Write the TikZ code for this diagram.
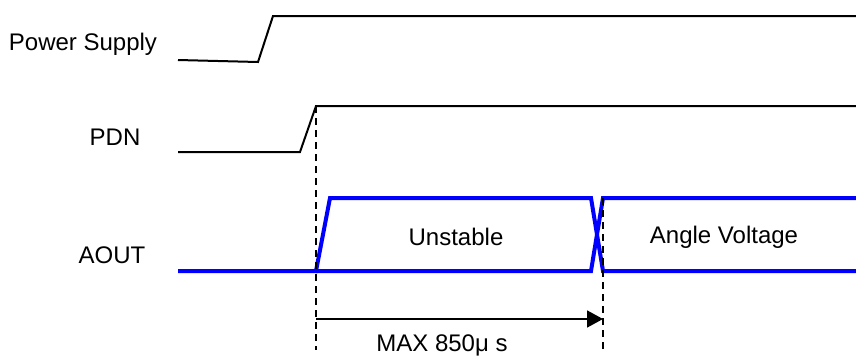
\documentclass[tikz,border=0pt]{standalone}
\usepackage{fontspec}
\setmainfont{Liberation Sans}
\usetikzlibrary{arrows.meta}

\begin{document}
\begin{tikzpicture}[x=1pt,y=-1pt,
    sig/.style={line width=2pt,line join=miter},
    bus/.style={draw=blue,line width=4pt,line join=miter},
    guide/.style={line width=1.6pt,dash pattern=on 7pt off 5pt},
    every node/.style={font=\fontsize{24}{28}\selectfont}]

    \useasboundingbox (0,0) rectangle (856,356);

    % Labels %
    \node (ps) at (83,44) {Power Supply};
    \node (pdn) at (115,137) {PDN};
    \node (aout) at (112,255) {AOUT};

    % Power Supply %
    \coordinate (ps0) at (178,60);
    \coordinate (ps1) at (258,62);
    \coordinate (ps2) at (273,16);
    \coordinate (ps3) at (856,16);
    \draw [sig] (ps0) -- (ps1) -- (ps2) -- (ps3);

    % PDN %
    \coordinate (pd0) at (178,152);
    \coordinate (pd1) at (300,152);
    \coordinate (pd2) at (316,106);
    \coordinate (pd3) at (856,106);
    \draw [sig] (pd0) -- (pd1) -- (pd2) -- (pd3);

    % AOUT %
    \coordinate (ao0) at (178,271);
    \coordinate (ao1) at (316,271);
    \coordinate (ao2) at (330,198);
    \coordinate (ao3) at (591,198);
    \coordinate (ao4) at (591,271);
    \coordinate (ao5) at (603,198);
    \coordinate (ao6) at (603,271);
    \coordinate (ao7) at (856,198);
    \coordinate (ao8) at (856,271);
    \draw [bus] (ao0) -- (ao1) -- (ao2) -- (ao3) -- (ao6) -- (ao8);
    \draw [bus] (ao1) -- (ao4) -- (ao5) -- (ao7);
    \node (unst) at (456,237) {Unstable};
    \node (angv) at (724,237) {Angle Voltage};

    % Timing marks %
    \coordinate (t0) at (316,350);
    \coordinate (t1) at (603,350);
    \draw [guide] (pd2) -- (t0);
    \draw [guide] (ao5) -- (t1);
    \coordinate (a0) at (316,319);
    \coordinate (a1) at (603,319);
    \draw [line width=1.6pt,-{Triangle[length=16pt,width=17pt]}] (a0) -- (a1);
    \node (max) at (442,345) {MAX 850μ s};

\end{tikzpicture}
\end{document}
